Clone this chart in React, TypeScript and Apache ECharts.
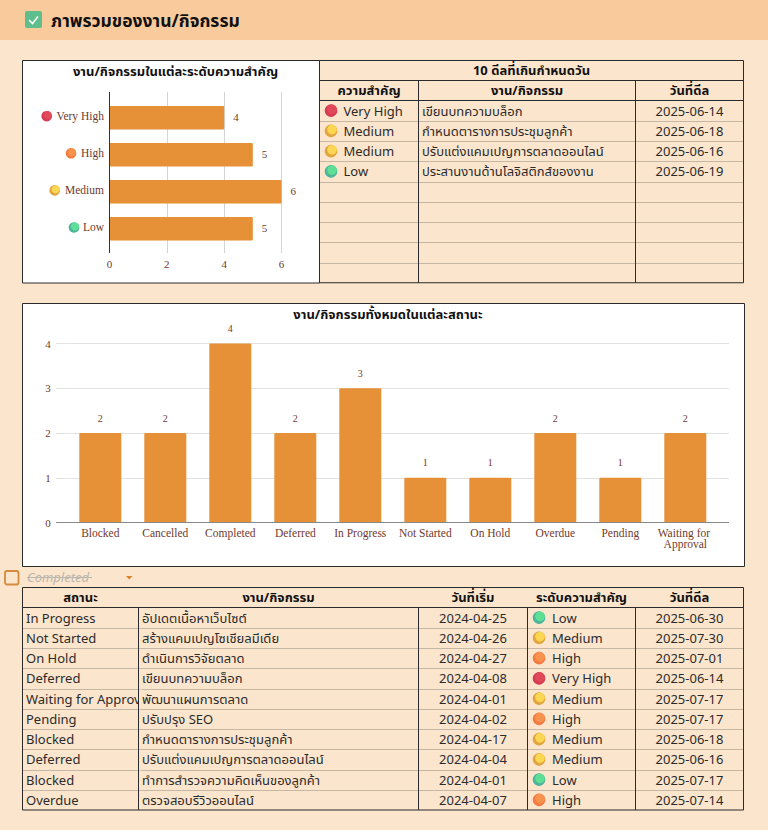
import React, { useEffect, useRef } from "react";
import * as echarts from "echarts";

const priorityLevels = ["Very High", "High", "Medium", "Low"];
const priorityCounts = [4, 5, 6, 5];
const statusNames = ["Blocked", "Cancelled", "Completed", "Deferred", "In Progress", "Not Started", "On Hold", "Overdue", "Pending", "Waiting for Approval"];
const statusCounts = [2, 2, 4, 2, 3, 1, 1, 2, 1, 2];
const valueTicksX = [0, 2, 4, 6];

const overdueHeaders = ["ความสำคัญ", "งาน/กิจกรรม", "วันที่ดีล"];
const overduePriority = ["Very High", "Medium", "Medium", "Low"];
const overdueTasks = ["เขียนบทความบล็อก", "กำหนดตารางการประชุมลูกค้า", "ปรับแต่งแคมเปญการตลาดออนไลน์", "ประสานงานด้านโลจิสติกส์ของงาน"];
const overdueDates = ["2025-06-14", "2025-06-18", "2025-06-16", "2025-06-19"];

const taskHeaders = ["สถานะ", "งาน/กิจกรรม", "วันที่เริ่ม", "ระดับความสำคัญ", "วันที่ดีล"];
const taskStatus = ["In Progress", "Not Started", "On Hold", "Deferred", "Waiting for Approval", "Pending", "Blocked", "Deferred", "Blocked", "Overdue"];
const taskNames = ["อัปเดตเนื้อหาเว็บไซต์", "สร้างแคมเปญโซเชียลมีเดีย", "ดำเนินการวิจัยตลาด", "เขียนบทความบล็อก", "พัฒนาแผนการตลาด", "ปรับปรุง SEO", "กำหนดตารางการประชุมลูกค้า", "ปรับแต่งแคมเปญการตลาดออนไลน์", "ทำการสำรวจความคิดเห็นของลูกค้า", "ตรวจสอบรีวิวออนไลน์"];
const taskStarts = ["2024-04-25", "2024-04-26", "2024-04-27", "2024-04-08", "2024-04-01", "2024-04-02", "2024-04-17", "2024-04-04", "2024-04-01", "2024-04-07"];
const taskPriority = ["Low", "Medium", "High", "Very High", "Medium", "High", "Medium", "Medium", "Low", "High"];
const taskDue = ["2025-06-30", "2025-07-30", "2025-07-01", "2025-06-14", "2025-07-17", "2025-07-17", "2025-06-18", "2025-06-16", "2025-07-17", "2025-07-14"];

const PAGE = "#fce5cd";
const HEAD = "#f9cb9c";
const BAR = "#e69138";
const BROWN = "#71392c";
const DARK = "#2b2b2b";
const SANS = "'Noto Sans', 'Noto Sans Thai', sans-serif";
const SERIF = "'Liberation Serif', serif";
const iconTones: Record<string, [string, string]> = {
  "Very High": ["#d63a55", "#e04a58"],
  High: ["#f47c42", "#f8924f"],
  Medium: ["#e0a53f", "#fbd653"],
  Low: ["#4db59c", "#5fdf93"],
};

function line(x1: number, y1: number, x2: number, y2: number, stroke = DARK, lineDash?: number[], z = 6) {
  return { type: "line", z, silent: true, shape: { x1, y1, x2, y2 }, style: { stroke, lineWidth: 1, lineDash } };
}
function label(text: string, x: number, y: number, o: any = {}) {
  return {
    type: "text", z: 8, x, y,
    style: { text, fontFamily: SANS, fontSize: 13, fill: DARK, align: "left", verticalAlign: "middle", ...o },
  };
}
function dot(level: string, x: number, y: number, r = 6.3) {
  const [base, light] = iconTones[level];
  return {
    type: "group", z: 8,
    children: [
      { type: "circle", z: 8, shape: { cx: x, cy: y, r }, style: { fill: base } },
      { type: "circle", z: 8, shape: { cx: x + r * 0.16, cy: y - r * 0.2, r: r * 0.76 }, style: { fill: light } },
    ],
  };
}

function tableGraphic(x: number[], top: number, headY: number, rows: number, rowH: number, base: number) {
  const out: any[] = [];
  const right = x[x.length - 1];
  const bottom = base + rows * rowH;
  out.push(line(x[0], top, right, top), line(x[0], headY, right, headY), line(x[0], base, right, base), line(x[0], bottom, right, bottom));
  x.forEach((c, i) => out.push(line(c, i === 0 || i === x.length - 1 ? top : headY, c, bottom)));
  for (let i = 1; i < rows; i++) {
    const y = Math.round(base + i * rowH) + 0.5;
    out.push(line(x[0], y, right, y, "#8f887d", [1, 1], 5));
  }
  return out;
}

function buildGraphic() {
  const els: any[] = [];
  const bold = { align: "center", fontSize: 13, fontWeight: "bold", fill: "#111" };
  els.push({ type: "rect", z: -10, shape: { x: 0, y: 0, width: 768, height: 40 }, style: { fill: HEAD } });
  els.push({ type: "rect", z: 8, shape: { x: 25, y: 11, width: 17, height: 17, r: 2 }, style: { fill: "#5fbf8c" } });
  els.push({ type: "polyline", z: 9, shape: { points: [[29, 20], [32.5, 23.5], [38, 16.5]] }, style: { stroke: "#fff", lineWidth: 1.6, fill: "none" } });
  els.push(label("ภาพรวมของงาน/กิจกรรม", 51, 20, { fontSize: 17.5, fontWeight: "bold", fill: "#111" }));

  els.push({ type: "rect", z: -9, shape: { x: 22.5, y: 60.5, width: 297, height: 222.5 }, style: { fill: "#fff", stroke: DARK, lineWidth: 1 } });
  els.push({ type: "rect", z: -9, shape: { x: 22.5, y: 303.5, width: 722, height: 263 }, style: { fill: "#fff", stroke: DARK, lineWidth: 1 } });
  els.push(line(109.5, 92, 109.5, 253, "#333", undefined, 4));
  els.push(line(56, 522.5, 729, 522.5, "#888", undefined, 4));

  // icons beside the priority axis labels
  const iconX = [46.7, 71, 54.7, 74];
  priorityLevels.forEach((p, i) => els.push(dot(p, iconX[i], 116.2 + i * 37.1, 5.3)));

  // overdue table
  const tx = [319.5, 418.5, 635.5, 743.5];
  const t1 = 20.25;
  els.push(...tableGraphic(tx, 60.5, 80.5, 9, t1, 100.5));
  els.push(label("10 ดีลที่เกินกำหนดวัน", 531.5, 69.5, bold));
  overdueHeaders.forEach((h, i) => els.push(label(h, (tx[i] + tx[i + 1]) / 2, 89.5, bold)));
  overduePriority.forEach((p, i) => {
    const y = 100.5 + t1 * (i + 0.5);
    els.push(dot(p, 331, y));
    els.push(label(p, 343.5, y));
    els.push(label(overdueTasks[i], 422, y));
    els.push(label(overdueDates[i], (tx[2] + tx[3]) / 2, y, { align: "center" }));
  });

  // filter control
  els.push({ type: "rect", z: 8, shape: { x: 5, y: 571, width: 13.5, height: 13.5, r: 2 }, style: { fill: "none", stroke: "#d68a3c", lineWidth: 1.8 } });
  els.push(label("Completed", 27, 577, { fill: "#b9b6ae", fontStyle: "italic", fontSize: 13 }));
  els.push(line(27, 577.5, 92, 577.5, "#b9b6ae", undefined, 8));
  els.push({ type: "polygon", z: 8, shape: { points: [[126, 576], [132.5, 576], [129.2, 579.5]] }, style: { fill: "#d9822b" } });

  // task table
  const cx = [22.5, 138.5, 418.5, 527.5, 635.5, 743.5];
  const t2 = 20.25;
  els.push(...tableGraphic(cx, 587.5, 607.5, 10, t2, 607.5));
  taskHeaders.forEach((h, i) => els.push(label(h, (cx[i] + cx[i + 1]) / 2, 596.5, bold)));
  taskStatus.forEach((s, i) => {
    const y = 607.5 + t2 * (i + 0.5);
    els.push(label(s, 26, y, { width: 126, overflow: "truncate", ellipsis: "" }));
    // the column clips long status text at its right edge
    els.push({ type: "rect", z: 8, shape: { x: 139, y: y - 9, width: 3, height: 18 }, style: { fill: PAGE } });
    els.push(label(taskNames[i], 142, y));
    els.push(label(taskStarts[i], (cx[2] + cx[3]) / 2, y, { align: "center" }));
    els.push(dot(taskPriority[i], 539, y));
    els.push(label(taskPriority[i], 552, y));
    els.push(label(taskDue[i], (cx[4] + cx[5]) / 2, y, { align: "center" }));
  });
  return els;
}

const option: any = {
  animation: false,
  backgroundColor: PAGE,
  title: [
    { text: "งาน/กิจกรรมในแต่ละระดับความสำคัญ", left: 170.5, top: 59, textAlign: "center", textStyle: { fontFamily: SANS, fontSize: 13, fontWeight: "bold", color: "#111" } },
    { text: "งาน/กิจกรรมทั้งหมดในแต่ละสถานะ", left: 383, top: 302, textAlign: "center", textStyle: { fontFamily: SANS, fontSize: 13, fontWeight: "bold", color: "#111" } },
  ],
  grid: [
    { left: 109.5, width: 172, top: 99.2, height: 148 },
    { left: 67.8, width: 650, top: 343.5, height: 179 },
  ],
  xAxis: [
    {
      type: "value", gridIndex: 0, position: "bottom", min: valueTicksX[0], max: valueTicksX[valueTicksX.length - 1], interval: 2,
      axisLine: { show: false },
      axisTick: { show: true, length: 6, lineStyle: { color: "#d4d4d4" } },
      splitLine: { show: true, lineStyle: { color: "#d4d4d4" } },
      axisLabel: { fontFamily: SERIF, fontSize: 11, color: BROWN, margin: 11 },
    },
    {
      type: "value", gridIndex: 0, position: "top", min: 0, max: 6, interval: 2,
      axisLine: { show: false },
      axisTick: { show: true, length: 7, lineStyle: { color: "#d4d4d4" } },
      splitLine: { show: false }, axisLabel: { show: false },
    },
    {
      type: "category", gridIndex: 1, data: statusNames,
      axisLine: { show: false }, axisTick: { show: false },
      axisLabel: { interval: 0, fontFamily: SERIF, fontSize: 11.5, color: BROWN, margin: 5, lineHeight: 11, width: 62, overflow: "break" },
    },
  ],
  yAxis: [
    {
      type: "category", gridIndex: 0, inverse: true, data: priorityLevels,
      axisLine: { show: false }, axisTick: { show: false },
      axisLabel: { fontFamily: SERIF, fontSize: 11.5, color: BROWN, margin: 5.5, verticalAlign: "bottom", lineHeight: 4 },
    },
    {
      type: "value", gridIndex: 1, position: "left", min: 0, max: 4, interval: 1,
      axisLine: { show: false },
      axisTick: { show: true, length: 11.8, lineStyle: { color: "#e2e2e2" } },
      splitLine: { show: true, lineStyle: { color: "#e2e2e2" } },
      axisLabel: { fontFamily: SERIF, fontSize: 11, color: BROWN, margin: 17 },
    },
    {
      type: "value", gridIndex: 1, position: "right", min: 0, max: 4, interval: 1,
      axisLine: { show: false },
      axisTick: { show: true, length: 11.2, lineStyle: { color: "#e2e2e2" } },
      splitLine: { show: false }, axisLabel: { show: false },
    },
  ],
  series: [
    {
      type: "bar", xAxisIndex: 0, yAxisIndex: 0, data: priorityCounts, barWidth: 23.5,
      itemStyle: { color: BAR, borderRadius: 1 },
      label: { show: true, position: "right", distance: 9, offset: [0, -1], fontFamily: SERIF, fontSize: 11, color: BROWN },
    },
    {
      type: "bar", xAxisIndex: 2, yAxisIndex: 1, data: statusCounts, barWidth: 42,
      itemStyle: { color: BAR, borderRadius: 1 },
      label: { show: true, position: "top", distance: 10, fontFamily: SERIF, fontSize: 10, color: BROWN },
    },
  ],
  graphic: { elements: buildGraphic() },
};

export default function App() {
  const ref = useRef<HTMLDivElement>(null);
  useEffect(() => {
    document.body.style.margin = "0";
    document.body.style.background = PAGE;
    const chart = echarts.init(ref.current!, undefined, { renderer: "svg" });
    chart.setOption(option);
    return () => chart.dispose();
  }, []);
  return <div ref={ref} style={{ width: 768, height: 830 }} />;
}
